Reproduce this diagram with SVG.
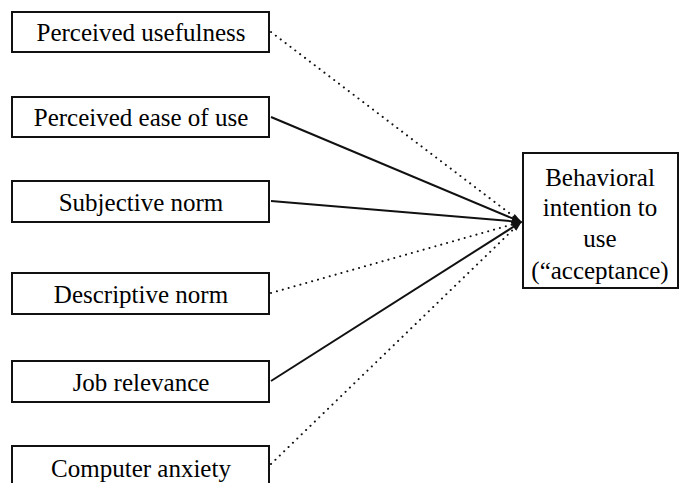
<svg xmlns="http://www.w3.org/2000/svg" width="680" height="483" viewBox="0 0 680 483">
  <defs>
    <marker id="arrow" viewBox="0 0 10 10" refX="9" refY="5" markerWidth="10" markerHeight="10" markerUnits="userSpaceOnUse" orient="auto">
      <path d="M0,0 L10,5 L0,10 Z" fill="#111111"/>
    </marker>
  </defs>
  <rect width="680" height="483" fill="#ffffff"/>

  <!-- solid lines carry the arrowhead; dotted lines meet at the same point -->
  <g id="connectors" fill="none" stroke="#111111" stroke-width="2">
    <g stroke-linecap="round" stroke-dasharray="0.1 6">
      <line x1="271" y1="32" x2="521" y2="222"/>
      <line x1="271" y1="293" x2="521" y2="222"/>
      <line x1="271" y1="464" x2="521" y2="222"/>
    </g>
    <g marker-end="url(#arrow)">
      <line x1="271" y1="117" x2="521" y2="222"/>
      <line x1="271" y1="201" x2="521" y2="222"/>
      <line x1="271" y1="381" x2="521" y2="222"/>
    </g>
  </g>

  <g id="perceived-usefulness">
    <rect x="12" y="12" width="257" height="40" fill="#ffffff" stroke="#111111" stroke-width="2"/>
    <text x="141" y="41" font-size="25" font-family="Liberation Serif" text-anchor="middle">Perceived usefulness</text>
  </g>
  <g id="perceived-ease-of-use">
    <rect x="12" y="97" width="257" height="40" fill="#ffffff" stroke="#111111" stroke-width="2"/>
    <text x="141" y="126" font-size="25" font-family="Liberation Serif" text-anchor="middle">Perceived ease of use</text>
  </g>
  <g id="subjective-norm">
    <rect x="12" y="181" width="257" height="41" fill="#ffffff" stroke="#111111" stroke-width="2"/>
    <text x="141" y="211" font-size="25" font-family="Liberation Serif" text-anchor="middle">Subjective norm</text>
  </g>
  <g id="descriptive-norm">
    <rect x="12" y="273" width="257" height="41" fill="#ffffff" stroke="#111111" stroke-width="2"/>
    <text x="141" y="303" font-size="25" font-family="Liberation Serif" text-anchor="middle">Descriptive norm</text>
  </g>
  <g id="job-relevance">
    <rect x="12" y="361" width="257" height="41" fill="#ffffff" stroke="#111111" stroke-width="2"/>
    <text x="141" y="391" font-size="25" font-family="Liberation Serif" text-anchor="middle">Job relevance</text>
  </g>
  <g id="computer-anxiety">
    <rect x="12" y="446" width="257" height="45" fill="#ffffff" stroke="#111111" stroke-width="2"/>
    <text x="141" y="477" font-size="25" font-family="Liberation Serif" text-anchor="middle">Computer anxiety</text>
  </g>
  <g id="behavioral-intention">
    <rect x="523" y="153" width="155" height="135" fill="#ffffff" stroke="#111111" stroke-width="2"/>
    <text x="600" y="186" font-size="25" font-family="Liberation Serif" text-anchor="middle">Behavioral</text>
    <text x="600" y="216" font-size="25" font-family="Liberation Serif" text-anchor="middle">intention to</text>
    <text x="600" y="247" font-size="25" font-family="Liberation Serif" text-anchor="middle">use</text>
    <text x="600" y="279" font-size="25" font-family="Liberation Serif" text-anchor="middle">(&#8220;acceptance)</text>
  </g>
</svg>
